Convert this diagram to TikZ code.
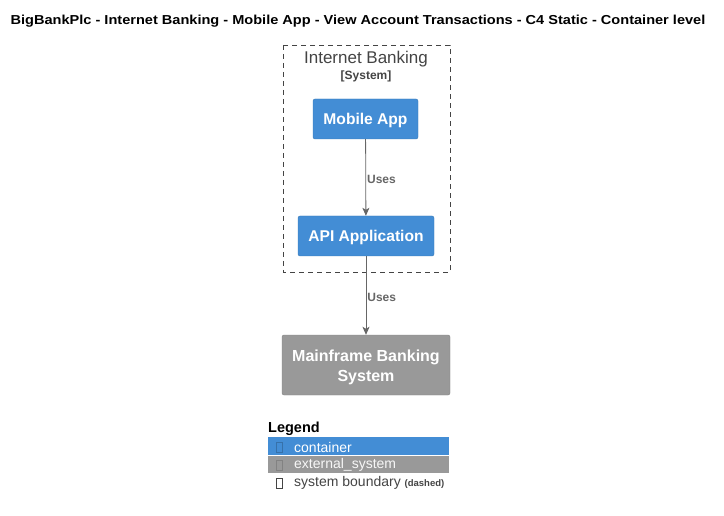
\documentclass[tikz,border=0pt]{standalone}
\usepackage{fontspec}
\setmainfont{Liberation Sans}
\newfontfamily\titlefont[FakeStretch=1.12]{Liberation Sans}
\usetikzlibrary{arrows.meta, positioning}
\definecolor{c4blue}{HTML}{438DD5}
\definecolor{c4gray}{HTML}{999999}
\definecolor{c4line}{HTML}{666666}
\definecolor{c4text}{HTML}{444444}
\newcommand{\px}[1]{\fontsize{#1}{#1}\selectfont}

\begin{document}
\begin{tikzpicture}[
        x=1pt, y=-1pt,
        >={Stealth[length=8pt, width=7pt, inset=2pt]},
        cont/.style={rectangle, rounded corners=2pt, draw=c4blue!85!black, fill=c4blue,
                     text=white, font=\px{15.6}\bfseries, inner sep=0pt, minimum height=40pt,
                     text depth=0pt},
        ext/.style={rectangle, rounded corners=2pt, draw=c4gray!85!black, fill=c4gray,
                    text=white, font=\bfseries, align=center, inner sep=0pt},
        rel/.style={->, draw=c4line, line width=0.8pt},
        lbl/.style={font=\px{12}\bfseries, text=c4line, inner sep=1pt},
        bar/.style={rectangle, inner sep=0pt, minimum width=181pt, anchor=west},
        glyph/.style={rectangle, draw=#1, line width=0.6pt, inner sep=0pt,
                      minimum width=6pt, minimum height=10pt}
    ]
        \useasboundingbox (0,0) rectangle (724,516);

        % titel
        \node[font=\titlefont\px{13}\bfseries] (title) at (358,21)
            {BigBankPlc - Internet Banking - Mobile App - View Account Transactions - C4 Static - Container level};

        % systeemgrens Internet Banking
        \draw[c4text, dash pattern=on 5pt off 4pt, line width=0.7pt] (283,45) rectangle (450,272);
        \node[font=\px{17}, text=c4text] (ibname) at (366,59) {Internet Banking};
        \node[font=\px{12}\bfseries, text=c4text] (ibtype) at (366,76) {[System]};

        % containers
        \node[cont, minimum width=105pt] (mobile) at (365.5,119) {Mobile App};
        \node[cont, minimum width=136pt] (api) at (366,236) {API Application};

        % extern systeem
        \node[ext, minimum width=168pt, minimum height=60pt] (mainframe) at (366,365) {};
        \node[font=\px{16}\bfseries, text=white, align=center] (mftext) at (366,367)
            {Mainframe Banking\\[4pt]System};

        % relaties
        \draw[rel] (mobile) -- (api) node[midway, right, lbl, yshift=-1.5pt]{Uses};
        \draw[rel] (api) -- (mainframe) node[midway, right, lbl, yshift=-2pt]{Uses};

        % legenda
        \node[font=\px{14.5}\bfseries, anchor=west, inner sep=0pt] (legend) at (268,429) {Legend};
        \node[bar, fill=c4blue, minimum height=18pt] (lcont) at (268,446) {};
        \node[bar, fill=c4gray, minimum height=17pt] (lext) at (268,464.5) {};
        \node[glyph=c4blue!80!black] (gcont) at (279,447) {};
        \node[glyph=c4gray!85!black] (gext) at (279,465) {};
        \node[glyph=c4text] (gbound) at (279,483) {};
        \node[font=\px{14}, text=white, anchor=west, inner sep=0pt] (tcont) at (294,447) {container};
        \node[font=\px{14}, text=white!92!c4gray, anchor=west, inner sep=0pt] (text) at (294,465) {external\_system};
        \node[font=\px{14}, text=c4text, anchor=west, inner sep=0pt] (tbound) at (294,483)
            {system boundary {\px{9.5}\bfseries(dashed)}};

    \end{tikzpicture}
\end{document}
